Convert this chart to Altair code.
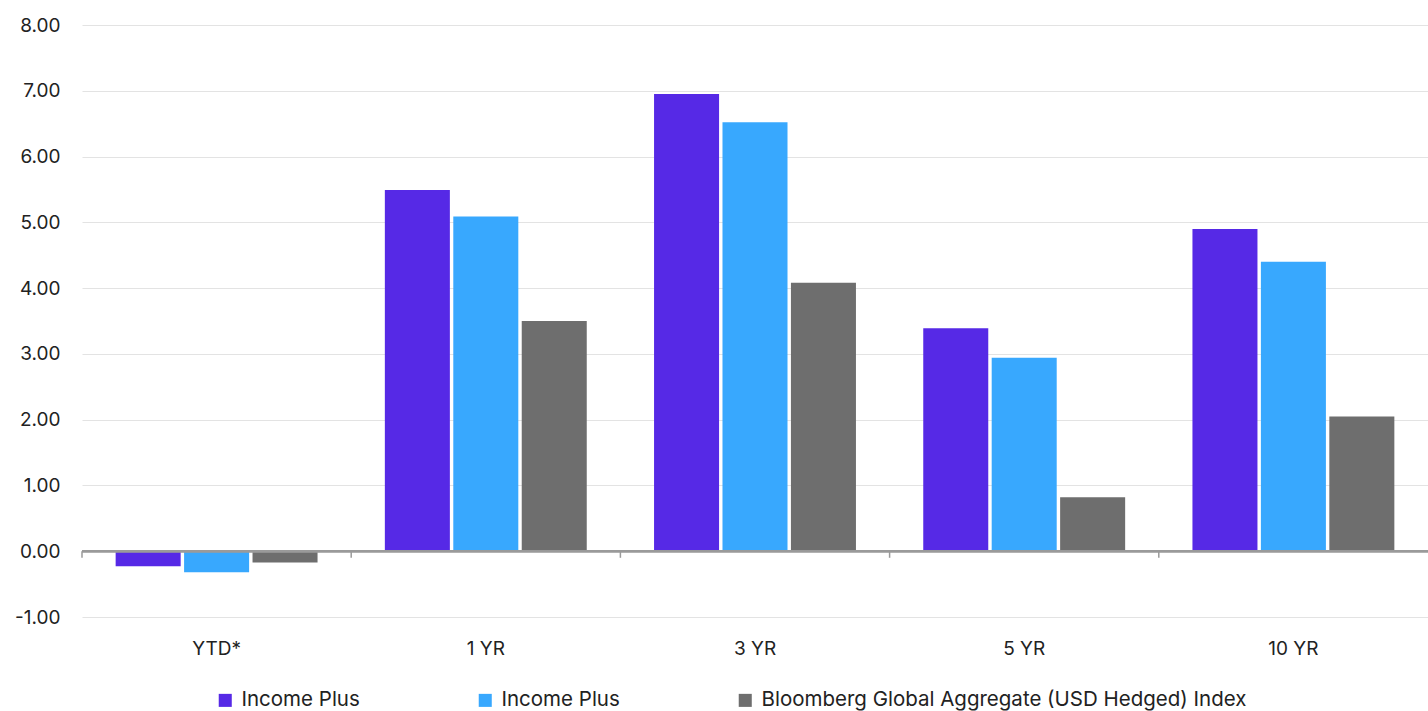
import altair as alt
import pandas as pd

categories = ["YTD*", "1 YR", "3 YR", "5 YR", "10 YR"]
series_keys = ["Income Plus|1", "Income Plus|2", "Bloomberg Global Aggregate (USD Hedged) Index|3"]
income_plus_a = [-0.23, 5.49, 6.95, 3.39, 4.90]
income_plus_b = [-0.32, 5.09, 6.52, 2.94, 4.40]
bloomberg = [-0.17, 3.50, 4.08, 0.82, 2.05]
colors = ["#5629E6", "#38A8FE", "#6E6E6E"]
y_ticks = [-1, 0, 1, 2, 3, 4, 5, 6, 7, 8]

rows = []
for key, vals in zip(series_keys, [income_plus_a, income_plus_b, bloomberg]):
    for c, v in zip(categories, vals):
        rows.append({"cat": c, "series": key, "value": v})
df = pd.DataFrame(rows)
cat_df = pd.DataFrame({"cat": categories})

FONT = "Inter"
W = 1346
STEP = W / len(categories)

x_scale = alt.Scale(domain=categories, paddingInner=0.25, paddingOuter=0.125)
y_scale = alt.Scale(domain=[-1, 8], nice=False, zero=False)
x_axis = alt.Axis(title=None, labelAngle=0, domain=False, ticks=False, grid=False,
                  labelFont=FONT, labelFontSize=19, labelColor="#222222",
                  labelPadding=22)

bars = alt.Chart(df).mark_bar().encode(
    x=alt.X("cat:N", scale=x_scale, sort=categories, axis=x_axis),
    xOffset=alt.XOffset("series:N", sort=series_keys,
                        scale=alt.Scale(domain=series_keys, paddingInner=0.05, paddingOuter=0)),
    y=alt.Y("value:Q", scale=y_scale,
            axis=alt.Axis(title=None, values=y_ticks, domain=False, ticks=False,
                          labelExpr="replace(format(datum.value, '.2f'), '\u2212', '-')",
                          labelFont=FONT, labelFontSize=19, labelColor="#222222",
                          labelPadding=22, gridColor="#e3e3e3", gridWidth=1)),
    color=alt.Color("series:N", sort=series_keys,
                    scale=alt.Scale(domain=series_keys, range=colors),
                    legend=alt.Legend(title=None, orient="none", direction="horizontal",
                                      legendX=133, legendY=665,
                                      symbolType="square", symbolSize=170, symbolStrokeWidth=0,
                                      labelFont=FONT, labelFontSize=20.5, labelColor="#222222",
                                      labelOffset=6, columnPadding=115, gridAlign="each",
                                      labelLimit=700,
                                      labelExpr="split(datum.label, '|')[0]")),
)

zero_line = alt.Chart(cat_df).mark_rule(color="#9a9a9a", strokeWidth=2).encode(
    y=alt.datum(0)
)

ticks = alt.Chart(cat_df).mark_rule(color="#9a9a9a", strokeWidth=1.5,
                                     xOffset=-0.125 * STEP).encode(
    x=alt.X("cat:N", scale=x_scale, sort=categories, bandPosition=0, axis=x_axis),
    y=alt.datum(0),
    y2=alt.datum(-0.1),
)

chart = alt.layer(bars, zero_line, ticks).properties(
    width=W,
    height=592,
    background="white",
    autosize=alt.AutoSizeParams(type="none"),
    padding={"left": 82, "top": 25, "right": 0, "bottom": 94},
).configure_view(strokeWidth=0, stroke="transparent")

chart.save("out.html", embed_options={"renderer": "svg", "actions": False})
